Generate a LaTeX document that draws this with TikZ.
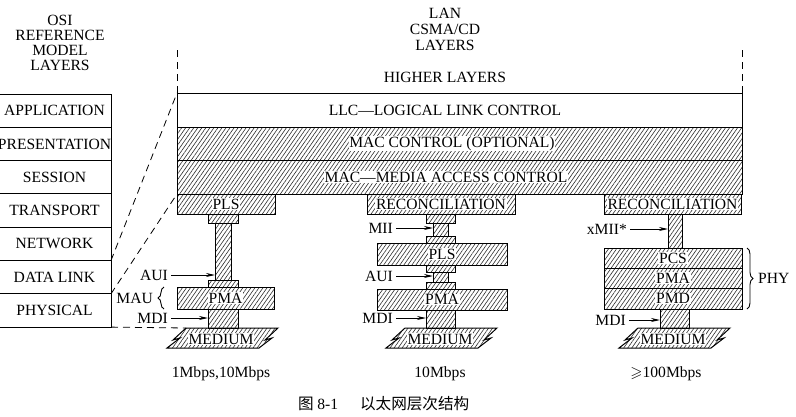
\documentclass[tikz,border=0pt]{standalone}
\usepackage{amsmath,amssymb}
\usepackage{fontspec}
\setmainfont{Liberation Serif}
\newfontfamily\cjkfont{Noto Sans CJK SC}
\usepackage{xcolor}
\usepackage{tikz}
\usetikzlibrary{arrows.meta,positioning,patterns.meta,decorations.pathreplacing}
\definecolor{hatchc}{RGB}{45,45,45}

\begin{document}
\begin{tikzpicture}[x=1pt,y=-1pt,font=\fontsize{15.6}{15.6}\selectfont,
  osi/.style={draw,line width=1pt,minimum width=113pt,minimum height=33.3pt,inner sep=0pt,outer sep=0pt},
  blk/.style={draw,line width=1pt,inner sep=0pt,outer sep=0pt},
  hbox/.style={blk,pattern={Lines[angle=55,distance=3.3pt,line width=.6pt]},pattern color=hatchc},
  txt/.style={fill=white,inner sep=.8pt},
  lab/.style={inner sep=1pt},
  cut/.style={dash pattern=on 7pt off 5pt,line width=.8pt},
  arr/.style={-{Stealth[length=9pt,width=4pt]},line width=.9pt,shorten <=2pt},
  brc/.style={decorate,decoration={brace,amplitude=6pt},line width=.9pt},
  medium/.pic={
    \draw[line width=1pt,pattern={Lines[angle=55,distance=3.3pt,line width=.6pt]},pattern color=hatchc]
      (-37,-10) -- (55,-10) -- (42,2) -- (49,0) -- (36,10) -- (-56,10) -- (-43,0) -- (-50,2) -- cycle;
    \coordinate (-tl) at (-37,-10);
  }]
\useasboundingbox (0,0) rectangle (796,416);
% --- OSI reference model ---
\node[align=center,font=\fontsize{15.6}{15}\selectfont] (osit) at (60,43) {OSI\\REFERENCE\\MODEL\\LAYERS};
\node[osi] (app) at (54.5,110.65) {APPLICATION};
\node[osi,below=0pt of app] (pre) {PRESENTATION};
\node[osi,below=0pt of pre] (ses) {SESSION};
\node[osi,below=0pt of ses] (tra) {TRANSPORT};
\node[osi,below=0pt of tra] (net) {NETWORK};
\node[osi,below=0pt of net] (dll) {DATA LINK};
\node[osi,below=0pt of dll] (phy) {PHYSICAL};
% --- LAN CSMA/CD upper layers ---
\node[align=center,font=\fontsize{15.6}{16}\selectfont] (lant) at (445,29) {LAN\\CSMA/CD\\LAYERS};
\node (hig) at (445,77) {HIGHER LAYERS};
\node[blk,minimum width=565pt,minimum height=34pt] (llc) at (459.5,110) {};
\node[hbox,minimum width=565pt,minimum height=33pt] (macc) at (459.5,143.5) {};
\node[hbox,minimum width=565pt,minimum height=34pt] (mac) at (459.5,177) {};
\node[txt] at (445,110) {LLC—LOGICAL LINK CONTROL};
\node[txt] at (452,143.5) {MAC CONTROL (OPTIONAL)};
\node[txt] at (446,177) {MAC—MEDIA ACCESS CONTROL};
\coordinate (ltop) at (177,50);
\coordinate (rtop) at (742,50);
\draw[cut] (ltop) -- (llc.north west);
\draw[cut] (rtop) -- (llc.north east);
% --- 1Mbps, 10Mbps ---
\node[hbox,minimum width=98pt,minimum height=20pt,label={[txt]center:PLS}] (pls1) at (226,204) {};
\node[hbox,minimum width=30pt,minimum height=9pt] (c1a) at (223,218.5) {};
\node[hbox,minimum width=16pt,minimum height=57pt] (stem1) at (223,251.5) {};
\node[hbox,minimum width=30pt,minimum height=7pt] (c1b) at (223,283.5) {};
\node[hbox,minimum width=97pt,minimum height=22pt,label={[txt]center:PMA}] (pma1) at (225.5,298) {};
\node[hbox,minimum width=30pt,minimum height=19pt] (c1c) at (223,318.5) {};
\pic (m1) at (223,338) {medium};
\node[txt] at (221,339) {MEDIUM};
\node[lab,anchor=east] (aui1) at (169,275) {AUI};
\node[lab,anchor=east] (mau1) at (154,298) {MAU};
\node[lab,anchor=east] (mdi1) at (169,318) {MDI};
\draw[arr] (aui1.east) -- (aui1.east -| stem1.west);
\draw[arr] (mdi1.east) -- (mdi1.east -| c1c.west);
\draw[brc] ([xshift=-13pt]pma1.south west) -- ([xshift=-13pt]pma1.north west);
\node (sp1) at (221,374) {1Mbps,10Mbps};
% --- 10Mbps ---
\node[hbox,minimum width=148pt,minimum height=20pt,label={[txt]center:RECONCILIATION}] (rec2) at (441,204) {};
\node[hbox,minimum width=29pt,minimum height=9pt] (c2a) at (440.5,218.5) {};
\node[hbox,minimum width=15pt,minimum height=13pt] (stem2a) at (440.5,229.5) {};
\node[hbox,minimum width=29pt,minimum height=7pt] (c2b) at (440.5,239.5) {};
\node[hbox,minimum width=130pt,minimum height=22pt,label={[txt]center:PLS}] (pls2) at (442,254) {};
\node[hbox,minimum width=29pt,minimum height=7pt] (c2c) at (440.5,268.5) {};
\node[hbox,minimum width=15pt,minimum height=10pt] (stem2b) at (440.5,277) {};
\node[hbox,minimum width=29pt,minimum height=7pt] (c2d) at (440.5,285.5) {};
\node[hbox,minimum width=130pt,minimum height=21pt,label={[txt]center:PMA}] (pma2) at (442,299.5) {};
\node[hbox,minimum width=29pt,minimum height=18pt] (c2e) at (440.5,319) {};
\pic (m2) at (442,338) {medium};
\node[txt] at (440,339) {MEDIUM};
\node[lab,anchor=east] (mii2) at (394,228) {MII};
\node[lab,anchor=east] (aui2) at (394,276) {AUI};
\node[lab,anchor=east] (mdi2) at (394,318) {MDI};
\draw[arr] (mii2.east) -- (mii2.east -| stem2a.west);
\draw[arr] (aui2.east) -- (aui2.east -| stem2b.west);
\draw[arr] (mdi2.east) -- (mdi2.east -| c2e.west);
\node (sp2) at (440,374) {10Mbps};
% --- 100Mbps and up ---
\node[hbox,minimum width=137pt,minimum height=20pt,label={[txt]center:RECONCILIATION}] (rec3) at (672.5,204) {};
\node[hbox,minimum width=14pt,minimum height=34pt] (stem3) at (675,231) {};
\node[hbox,minimum width=138pt,minimum height=20pt,label={[txt]center:PCS}] (pcs) at (673,258) {};
\node[hbox,minimum width=138pt,minimum height=20pt,label={[txt]center:PMA}] (pma3) at (673,278) {};
\node[hbox,minimum width=138pt,minimum height=21pt,label={[txt]center:PMD}] (pmd) at (673,298.5) {};
\node[hbox,minimum width=29pt,minimum height=19pt] (c3) at (674.5,318.5) {};
\pic (m3) at (675,338) {medium};
\node[txt] at (673,339) {MEDIUM};
\node[lab,anchor=east] (xmii3) at (628,229) {xMII*};
\node[lab,anchor=east] (mdi3) at (627,320) {MDI};
\draw[arr] (xmii3.east) -- (xmii3.east -| stem3.west);
\draw[arr] (mdi3.east) -- (mdi3.east -| c3.west);
\draw[brc] ([xshift=5pt]pcs.north east) -- ([xshift=5pt]pmd.south east);
\node[lab,anchor=west] (phyt) at (757,278) {PHY};
\node (sp3) at (666,374) {$\geqslant$100Mbps};
% --- OSI to LAN mapping ---
\draw[cut] (dll.north east) -- (llc.north west);
\draw[cut] (phy.north east) -- (mac.south west);
\draw[cut] (phy.south east) -- (m1-tl);
% --- caption ---
\node[anchor=west,inner sep=0pt] (cap) at (298,404) {\cjkfont 图 {\rmfamily 8-1}\hspace{22pt}以太网层次结构};
\end{tikzpicture}
\end{document}
